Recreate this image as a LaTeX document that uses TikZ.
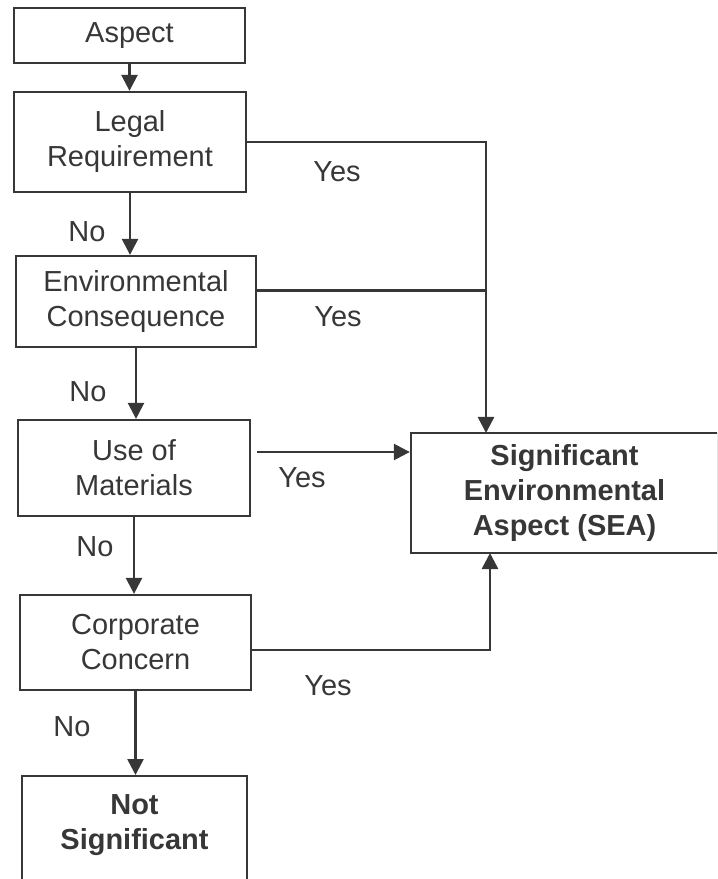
\documentclass[tikz,border=0pt]{standalone}
\usepackage{fontspec}
\setmainfont{Liberation Sans}
\usepackage{tikz}
\usetikzlibrary{arrows.meta}
\definecolor{ink}{RGB}{55,55,55}
\tikzset{
  checkbox/.style={rectangle, draw=ink, line width=1.6pt, text=ink, align=center,
                   inner sep=0pt, font=\fontsize{20.6}{24.9}\selectfont},
  resultbox/.style={checkbox, font=\fontsize{20.6}{24.9}\selectfont\bfseries},
  flowline/.style={draw=ink, line width=1.8pt},
  flowarrow/.style={flowline, -{Triangle[length=0.4cm,width=0.4cm]}},
  answer/.style={text=ink, inner sep=0pt, font=\fontsize{20.6}{24.9}\selectfont},
}

\begin{document}
\begin{tikzpicture}[x=0.025cm,y=-0.025cm]
  \clip (0,0) rectangle (717,879);
  % Checks down the left
  \node[checkbox, minimum width=5.775cm, minimum height=1.375cm] (aspect) at (129.5,35.5) {Aspect};
  \node[checkbox, minimum width=5.8cm, minimum height=2.5cm] (legal) at (130,142) {Legal\\Requirement};
  \node[checkbox, minimum width=6cm, minimum height=2.275cm] (env) at (136,301.5) {Environmental\\Consequence};
  \node[checkbox, minimum width=5.8cm, minimum height=2.4cm] (usemat) at (134,468) {Use of\\Materials};
  \node[checkbox, minimum width=5.775cm, minimum height=2.375cm] (corp) at (135.5,642.5) {Corporate\\Concern};
  \node[resultbox, anchor=north, minimum width=5.625cm, inner ysep=0.45cm, text depth=3cm] (notsig) at (134.5,775) {Not\\Significant};
  % Outcome
  \node[resultbox, minimum width=7.675cm, minimum height=3cm] (sea) at (564.5,493) {Significant\\Environmental\\Aspect (SEA)};
  % No branch
  \draw[flowarrow] (aspect.south) -- (aspect.south |- legal.north);
  \draw[flowarrow] (legal.south) -- (legal.south |- env.north);
  \draw[flowarrow] (env.south) -- (env.south |- usemat.north);
  \draw[flowarrow] (usemat.south) -- (usemat.south |- corp.north);
  \draw[flowarrow] (corp.south) -- (corp.south |- notsig.north);
  \node[answer] (no1) at (87,232) {No};
  \node[answer] (no2) at (88,392) {No};
  \node[answer] (no3) at (95,547) {No};
  \node[answer] (no4) at (72,727) {No};
  % Yes branch
  \coordinate (seatop) at (486,433);
  \coordinate (seabot) at (490,553);
  \coordinate (envy) at ([yshift=0.275cm]env.east);
  \coordinate (usey) at ([shift={(6,-16)}]usemat.east);
  \coordinate (corpy) at ([yshift=-0.19cm]corp.east);
  \draw[flowarrow] (legal.east) -| (seatop);
  \draw[flowline] (envy) -- (envy -| seatop);
  \draw[flowarrow] (usey) -- (usey -| sea.west);
  \draw[flowarrow] (corpy) -| (seabot);
  \node[answer] (yes1) at (337,172) {Yes};
  \node[answer] (yes2) at (338,317) {Yes};
  \node[answer] (yes3) at (302,478) {Yes};
  \node[answer] (yes4) at (328,686) {Yes};
\end{tikzpicture}
\end{document}
